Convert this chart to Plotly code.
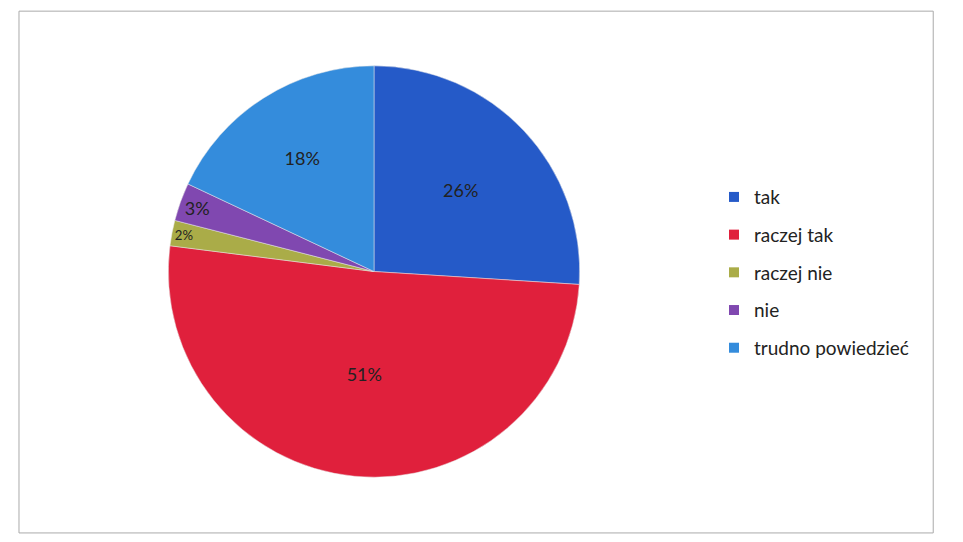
import plotly.graph_objects as go

labels = ['tak', 'raczej tak', 'raczej nie', 'nie', 'trudno powiedzieć']
values = [26, 51, 2, 3, 18]
colors = ['#255ac8', '#e0203c', '#aaac48', '#8048b0', '#348cdc']

fig = go.Figure()
fig.add_trace(go.Pie(
    labels=labels, values=values, sort=False, direction='clockwise', rotation=0,
    marker=dict(colors=colors, line=dict(color='#e8e8e8', width=0.5)),
    texttemplate='%{percent:.0%}', textposition='inside',
    insidetextorientation='horizontal',
    textfont=dict(family='Lato', size=18, color='#222'),
    showlegend=False, hoverinfo='label+percent',
    domain=dict(x=[0.169, 0.604], y=[0.108, 0.890]),
))

# legend drawn from dummy traces so the spacing can match
for lab, col in zip(labels, colors):
    fig.add_trace(go.Scatter(
        x=[None], y=[None], mode='markers', name=lab, legendgroup=lab,
        marker=dict(symbol='square', size=10, color=col),
    ))

fig.update_layout(
    paper_bgcolor='white', plot_bgcolor='white',
    margin=dict(l=0, r=0, t=0, b=0),
    xaxis=dict(visible=False), yaxis=dict(visible=False),
    font=dict(family='Lato', size=18, color='#222'),
    legend=dict(x=0.7455, y=0.497, xanchor='left', yanchor='middle',
                tracegroupgap=10, itemwidth=30, font=dict(size=19)),
    shapes=[dict(type='rect', xref='paper', yref='paper',
                 x0=0.0116, x1=0.977, y0=0.002, y1=0.994,
                 line=dict(color='#aaa', width=1))],
)
fig.write_html('out.html')
